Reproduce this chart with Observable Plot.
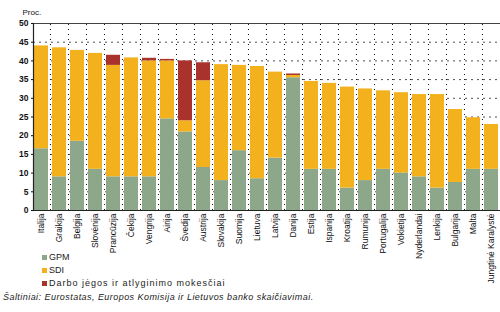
<!DOCTYPE html>
<html><head><meta charset="utf-8">
<script src="https://cdn.jsdelivr.net/npm/d3@7"></script>
<script src="https://cdn.jsdelivr.net/npm/@observablehq/plot@0.6"></script>
<style>
body{margin:0;background:#fff;font-family:"Liberation Sans",Arial,sans-serif;}
#wrap{position:relative;width:500px;height:312px;overflow:hidden;}
#legend{position:absolute;left:42px;top:251px;font-size:9px;line-height:13px;color:#222;}
#legend .sw{display:inline-block;width:5px;height:5px;margin-right:2px;vertical-align:middle;}
#legend .t3{letter-spacing:1px;}
#caption{position:absolute;left:3px;top:292px;font-size:9px;letter-spacing:0.45px;font-style:italic;color:#222;}
</style></head>
<body><div id="wrap"><div id="chart"></div><div id="legend"></div><div id="caption"></div></div>
<script>
const countries = ["Italija","Graikija","Belgija","Slovėnija","Prancūzija","Čekija","Vengrija","Airija","Švedija","Austrija","Slovakija","Suomija","Lietuva","Latvija","Danija","Estija","Ispanija","Kroatija","Rumunija","Portugalija","Vokietija","Nyderlandai","Lenkija","Bulgarija","Malta","Jungtinė Karalystė"];
const gpm   = [16.5, 9, 18.5, 11, 9, 9, 9, 24.5, 21, 11.5, 8, 16, 8.5, 14, 35.5, 11, 11, 6, 8, 11, 10, 9, 6, 7.5, 11, 11];
const sdi   = [27.5, 34.5, 24.3, 31, 29.8, 31.8, 31, 15.5, 3, 23.2, 31, 22.8, 30, 23, 0.6, 23.5, 23, 27, 24.5, 21, 21.5, 22, 25, 19.5, 13.8, 12];
const darbo = [0, 0, 0, 0, 2.7, 0, 0.7, 0.4, 16, 4.8, 0, 0, 0, 0, 0.4, 0, 0, 0, 0, 0, 0, 0, 0, 0, 0, 0];
const seriesNames = ["GPM","SDI","Darbo jėgos ir atlyginimo mokesčiai"];
const seriesColors = ["#8ca789","#f3b11e","#a9332c"];
const yTicks = [0,5,10,15,20,25,30,35,40,45,50];
const yLabel = "Proc.";
const caption = "Šaltiniai: Eurostatas, Europos Komisija ir Lietuvos banko skaičiavimai.";

const values = [gpm, sdi, darbo];
const data = [];
countries.forEach((c, i) => seriesNames.forEach((s, j) => data.push({country: c, series: s, value: values[j][i]})));

const step = 467 / (countries.length - 0.22 + 0.1);
const chart = Plot.plot({
  width: 500, height: 312,
  marginLeft: 33, marginRight: 0, marginTop: 23, marginBottom: 102,
  style: {fontFamily: "Liberation Sans, Arial, sans-serif", fontSize: "8.5px", color: "#111", background: "#fff"},
  x: {domain: countries, paddingInner: 0.22, paddingOuter: 0.05, label: null, tickRotate: -90, tickSize: 0, tickPadding: 3},
  y: {domain: [0, 50], ticks: yTicks, label: null, tickSize: 2, tickPadding: 3},
  color: {domain: seriesNames, range: seriesColors},
  marks: [
    Plot.ruleY(yTicks.filter(d => d > 0 && d < 50), {stroke: "#222", strokeWidth: 0.8, strokeDasharray: "2,4"}),
    Plot.ruleX(countries.slice(1), {x: d => d, dx: -step / 2, y1: 0, y2: 50, stroke: "#111", strokeWidth: 1, strokeDasharray: "1,4"}),
    Plot.barY(data, {x: "country", y: "value", fill: "series", order: seriesNames}),
    Plot.ruleY([0], {stroke: "#222", strokeWidth: 1.2}),
    Plot.ruleY([50], {stroke: "#444", strokeWidth: 1}),
    Plot.frame({anchor: "left", stroke: "#222", strokeWidth: 1.2}),
    Plot.text([yLabel], {frameAnchor: "top-left", dx: -11, dy: -14, textAnchor: "start", fontSize: 8})
  ]
});
chart.querySelectorAll('[aria-label="y-axis tick label"] text').forEach(t => t.setAttribute("font-weight", "bold"));
document.getElementById("chart").appendChild(chart);

const lg = document.getElementById("legend");
seriesNames.forEach((s, j) => {
  const row = document.createElement("div");
  row.innerHTML = `<span class="sw" style="background:${seriesColors[j]}"></span><span class="t${j+1}">${s}</span>`;
  lg.appendChild(row);
});
document.getElementById("caption").textContent = caption;
</script></body></html>
